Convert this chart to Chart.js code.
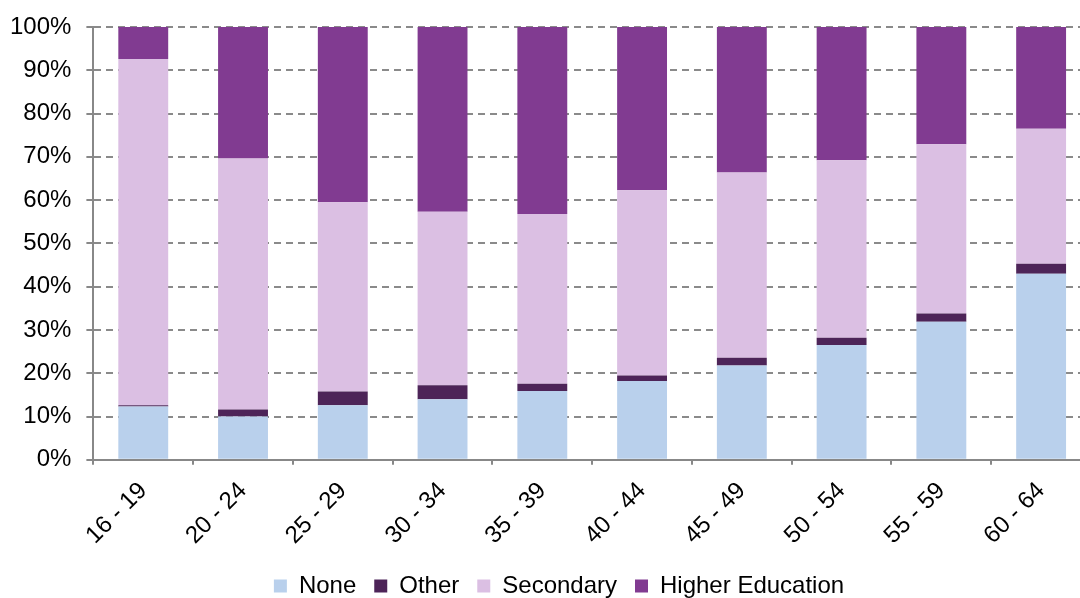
<!DOCTYPE html>
<html>
<head>
<meta charset="utf-8">
<script src="https://cdn.jsdelivr.net/npm/chart.js@4"></script>
<style>
  html, body { margin: 0; padding: 0; background: #fff; overflow: hidden; }
  #wrap { width: 1123px; height: 598px; }
</style>
</head>
<body>
<div id="wrap"><canvas id="myChart" width="1123" height="598"></canvas></div>
<script>
var ageGroups = ["16 - 19", "20 - 24", "25 - 29", "30 - 34", "35 - 39", "40 - 44", "45 - 49", "50 - 54", "55 - 59", "60 - 64"];
var none = [12.3, 10.0, 12.6, 14.0, 15.9, 18.2, 21.8, 26.5, 31.9, 43.0];
var other = [0.3, 1.6, 3.2, 3.2, 1.7, 1.3, 1.8, 1.7, 1.9, 2.3];
var secondary = [80.0, 58.0, 43.7, 40.1, 39.2, 42.8, 42.8, 41.0, 39.1, 31.2];
var higher = [7.4, 30.4, 40.5, 42.7, 43.2, 37.7, 33.6, 30.8, 27.1, 23.5];

Chart.defaults.font.family = "'Liberation Sans', Arial, sans-serif";
Chart.defaults.font.size = 24;
Chart.defaults.color = "#000";

// legend sits lower and slightly right in the original
var legendShift = {
  id: "legendShift",
  afterInit: function (chart) {
    var lg = chart.legend;
    var fit = lg.fit;
    lg.fit = function () {
      fit.call(this);
      this.height -= 16;
    };
  },
  afterLayout: function (chart) {
    var lg = chart.legend;
    lg.top -= 6;
    lg.bottom = chart.height; // keep the clip box big enough
    lg.height = lg.bottom - lg.top;
    lg.left += 16; lg.right += 16;
  }
};

var ctx = document.getElementById("myChart").getContext("2d");
var chart = new Chart(ctx, {
  type: "bar",
  data: {
    labels: ageGroups,
    datasets: [
      { label: "None", data: none, backgroundColor: "#b9d0ec" },
      { label: "Other", data: other, backgroundColor: "#4d2458" },
      { label: "Secondary", data: secondary, backgroundColor: "#dbbfe3" },
      { label: "Higher Education", data: higher, backgroundColor: "#813b91" }
    ]
  },
  plugins: [legendShift],
  options: {
    responsive: false,
    animation: false,
    layout: { padding: { top: 7, right: 32, left: -5, bottom: 0 } },
    datasets: { bar: { barPercentage: 0.5, categoryPercentage: 1.0 } },
    plugins: {
      tooltip: { enabled: false },
      legend: {
        position: "bottom",
        labels: { boxWidth: 13, boxHeight: 13, padding: 18, font: { size: 24 }, color: "#000" }
      }
    },
    scales: {
      x: {
        stacked: true,
        offset: true,
        border: { color: "#888", width: 2 },
        grid: { offset: true, drawOnChartArea: false, drawTicks: true, tickLength: 5, color: "#888", lineWidth: 2 },
        ticks: { maxRotation: 45, minRotation: 45, padding: 12, font: { size: 24 } }
      },
      y: {
        stacked: true,
        min: 0,
        max: 100,
        border: { color: "#888", width: 2, dash: [7, 5] },
        grid: { color: "#8a8a8a", lineWidth: 2, tickLength: 7, tickColor: "#888", tickBorderDash: [] },
        ticks: { stepSize: 10, padding: 15, font: { size: 24, lineHeight: 1 }, callback: function (v) { return v + "%"; } }
      }
    }
  }
});
</script>
</body>
</html>
